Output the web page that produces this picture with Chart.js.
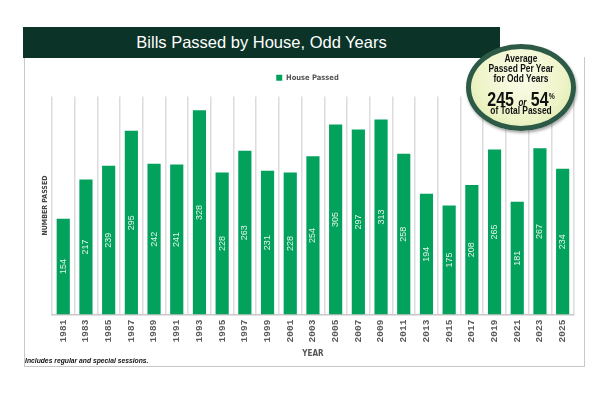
<!DOCTYPE html>
<html>
<head>
<meta charset="utf-8">
<script src="https://cdn.jsdelivr.net/npm/chart.js@4.4.1/dist/chart.umd.min.js"></script>
<style>
  html, body { margin: 0; padding: 0; background: #fff; }
  body { width: 612px; height: 396px; position: relative; overflow: hidden; font-family: "Liberation Sans", Arial, sans-serif; }
  #frame { position: absolute; left: 24px; top: 57px; width: 561px; height: 310px; border: 1.5px solid #c8c8c8; border-top: none; box-sizing: border-box; }
  #titlebar { position: absolute; left: 23px; top: 27px; width: 477px; height: 31px; background: #0b3327; color: #fff; font-size: 16.5px; line-height: 31px; text-align: center; }
  #chartWrap { position: absolute; left: 0; top: 0; width: 612px; height: 396px; }
  #note { position: absolute; left: 25px; top: 356px; font-size: 7.5px; font-weight: bold; font-style: italic; color: #111; transform: scaleX(0.9); transform-origin: 0 0; white-space: nowrap; }
  #badge { position: absolute; left: 466px; top: 44px; width: 110px; height: 87px; box-sizing: border-box; border-radius: 50%; border: 5px solid #2d5a47;
    background: radial-gradient(ellipse at 50% 35%, #fbfdea 0%, #eef4c8 60%, #d9e6a4 100%);
    box-shadow: 1px 2px 3px rgba(0,0,0,0.35);
    font-weight: bold; color: #111; text-align: center; }
  #badge div { position: absolute; left: -20px; right: -20px; white-space: nowrap; transform: scaleX(0.8); }
  #badge .small { font-size: 10.5px; line-height: 11px; }
  #badge .big { font-size: 20px; line-height: 20px; }
  #badge .big i { font-size: 10px; font-weight: bold; }
  #badge .big sup { font-size: 8.5px; vertical-align: 7px; }
</style>
</head>
<body>
<div id="frame"></div>
<div id="titlebar">Bills Passed by House, Odd Years</div>
<div id="chartWrap"><canvas id="billsChart" width="612" height="396"></canvas></div>
<div id="badge">
  <div class="small" style="top:4px">Average</div>
  <div class="small" style="top:14px">Passed Per Year</div>
  <div class="small" style="top:24px">for Odd Years</div>
  <div class="big" style="top:37px">245 <i>or</i> 54<sup>%</sup></div>
  <div class="small" style="top:56px">of Total Passed</div>
</div>
<div id="note">Includes regular and special sessions.</div>
<script>
const years = ["1981", "1983", "1985", "1987", "1989", "1991", "1993", "1995", "1997", "1999", "2001", "2003",
  "2005", "2007", "2009", "2011", "2013", "2015", "2017", "2019", "2021", "2023", "2025"];
const housePassed = [154, 217, 239, 295, 242, 241, 328, 228, 263, 231, 228, 254,
  305, 297, 313, 258, 194, 175, 208, 265, 181, 267, 234];
const seriesName = "House Passed";
const barGreen = "#02a15c";

// etiquetas de valor giradas dentro de cada barra
const barLabels = {
  id: "barLabels",
  afterDatasetsDraw(chart) {
    const ctx = chart.ctx;
    const meta = chart.getDatasetMeta(0);
    ctx.save();
    ctx.fillStyle = "#e4f4ea";
    ctx.font = "9px 'Liberation Sans', sans-serif";
    ctx.textAlign = "center";
    ctx.textBaseline = "middle";
    meta.data.forEach((bar, i) => {
      const cy = (bar.y + bar.base) / 2;
      ctx.save();
      ctx.translate(bar.x, cy);
      ctx.rotate(-Math.PI / 2);
      ctx.fillText(String(housePassed[i]), 0, 0);
      ctx.restore();
    });
    ctx.restore();
  }
};

// espacio extra debajo de la leyenda
const legendGap = {
  id: "legendGap",
  beforeInit(chart) {
    const fitOrig = chart.legend.fit;
    chart.legend.fit = function () {
      fitOrig.bind(chart.legend)();
      this.height += 5;
    };
  }
};

const ctx = document.getElementById("billsChart").getContext("2d");
const billsChart = new Chart(ctx, {
  type: "bar",
  data: {
    labels: years,
    datasets: [{
      label: seriesName,
      data: housePassed,
      backgroundColor: barGreen,
      borderWidth: 0,
      barPercentage: 0.58,
      categoryPercentage: 1
    }]
  },
  options: {
    responsive: false,
    animation: false,
    layout: { padding: { left: 41, right: 38, top: 61, bottom: 37 } },
    plugins: {
      tooltip: { enabled: false },
      legend: {
        display: true,
        position: "top",
        labels: {
          boxWidth: 6, boxHeight: 6, padding: 13, color: "#555",
          font: { family: "'DejaVu Sans Condensed', sans-serif", size: 7.5, weight: "bold" }
        }
      }
    },
    scales: {
      x: {
        grid: { display: true, color: "#dcdcdc", lineWidth: 1.5, drawTicks: false, offset: true },
        border: { display: true, color: "#c8c8c8", width: 1.5 },
        ticks: {
          minRotation: 90, maxRotation: 90, padding: 5, color: "#5a5a5a",
          font: { family: "'Liberation Mono', monospace", size: 9.5, weight: "bold" }
        },
        title: {
          display: true, text: "YEAR", color: "#555", padding: { top: 2, bottom: 0 },
          font: { family: "'DejaVu Sans Condensed', sans-serif", size: 8, weight: "bold" }
        }
      },
      y: {
        min: 0, max: 350,
        grid: { display: false, drawTicks: false, tickLength: 0 },
        border: { display: false },
        ticks: { display: false },
        title: {
          display: true, text: "NUMBER PASSED", color: "#444", padding: { top: 0, bottom: 2.5 },
          font: { family: "'DejaVu Sans Condensed', sans-serif", size: 7, weight: "bold" }
        }
      }
    }
  },
  plugins: [barLabels, legendGap]
});
</script>
</body>
</html>
